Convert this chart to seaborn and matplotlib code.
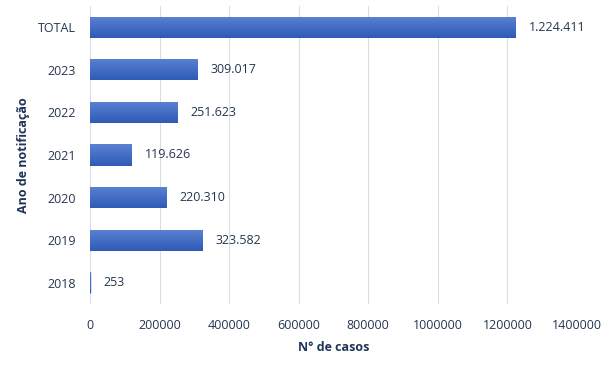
import matplotlib
matplotlib.use("Agg")
import matplotlib.pyplot as plt
import numpy as np
import pandas as pd
import seaborn as sns

# data
anos = ["TOTAL", "2023", "2022", "2021", "2020", "2019", "2018"]
casos = [1224411, 309017, 251623, 119626, 220310, 323582, 253]
xticks = [0, 200000, 400000, 600000, 800000, 1000000, 1200000, 1400000]

df = pd.DataFrame({"ano": anos, "casos": casos})

sns.set_theme(style="white")
plt.rcParams["font.family"] = ["Open Sans", "DejaVu Sans"]

txt = "#263650"
navy = "#1f3458"

fig = plt.figure(figsize=(6.14, 3.69), dpi=100)
ax = fig.add_axes([0.1466, 0.176, 0.793, 0.808])

sns.barplot(data=df, x="casos", y="ano", orient="h", color="#4472c4",
            width=0.5, saturation=1, ax=ax, zorder=2)

# vertical gradient on each bar, lighter on top
grad = np.linspace(0, 1, 64).reshape(-1, 1)
cmap = matplotlib.colors.LinearSegmentedColormap.from_list("g", ["#5b82d2", "#2e5bb7"])
for p in ax.patches:
    x0, y0 = p.get_x(), p.get_y()
    w, h = p.get_width(), p.get_height()
    if w <= 0:
        continue
    im = ax.imshow(grad, cmap=cmap, aspect="auto", extent=[x0, x0 + w, y0 + h, y0],
                   zorder=3, interpolation="bilinear")
    im.set_clip_path(p)
    p.set_facecolor("none")
    p.set_edgecolor("none")
# tiny 2018 bar drawn as an edge so it stays visible
ax.patches[-1].set_edgecolor("#3a66c0")
ax.patches[-1].set_linewidth(1.0)

for i, v in enumerate(casos):
    lab = f"{v:,}".replace(",", ".")
    ax.annotate(lab, (v, i), xytext=(9.5, 0), textcoords="offset points",
                va="center", ha="left", fontsize=9, color=txt)

ax.set_xlim(0, 1400000)
ax.set_ylim(6.5, -0.5)
ax.set_xticks(xticks)
ax.set_xticklabels([str(t) for t in xticks])
ax.grid(axis="x", color="#d9dde6", linewidth=0.8, zorder=0)
ax.set_axisbelow(True)
for s in ax.spines.values():
    s.set_visible(False)
ax.tick_params(axis="x", length=0, pad=11, labelsize=9, labelcolor=txt)
ax.tick_params(axis="y", length=0, pad=10, labelsize=9, labelcolor=txt)

ax.set_xlabel("N° de casos", fontsize=9, fontweight="bold", color=navy, labelpad=6)
ax.set_ylabel("Ano de notificação", fontsize=9, fontweight="bold", color=navy, labelpad=6)

fig.savefig("out.png", dpi=100)
